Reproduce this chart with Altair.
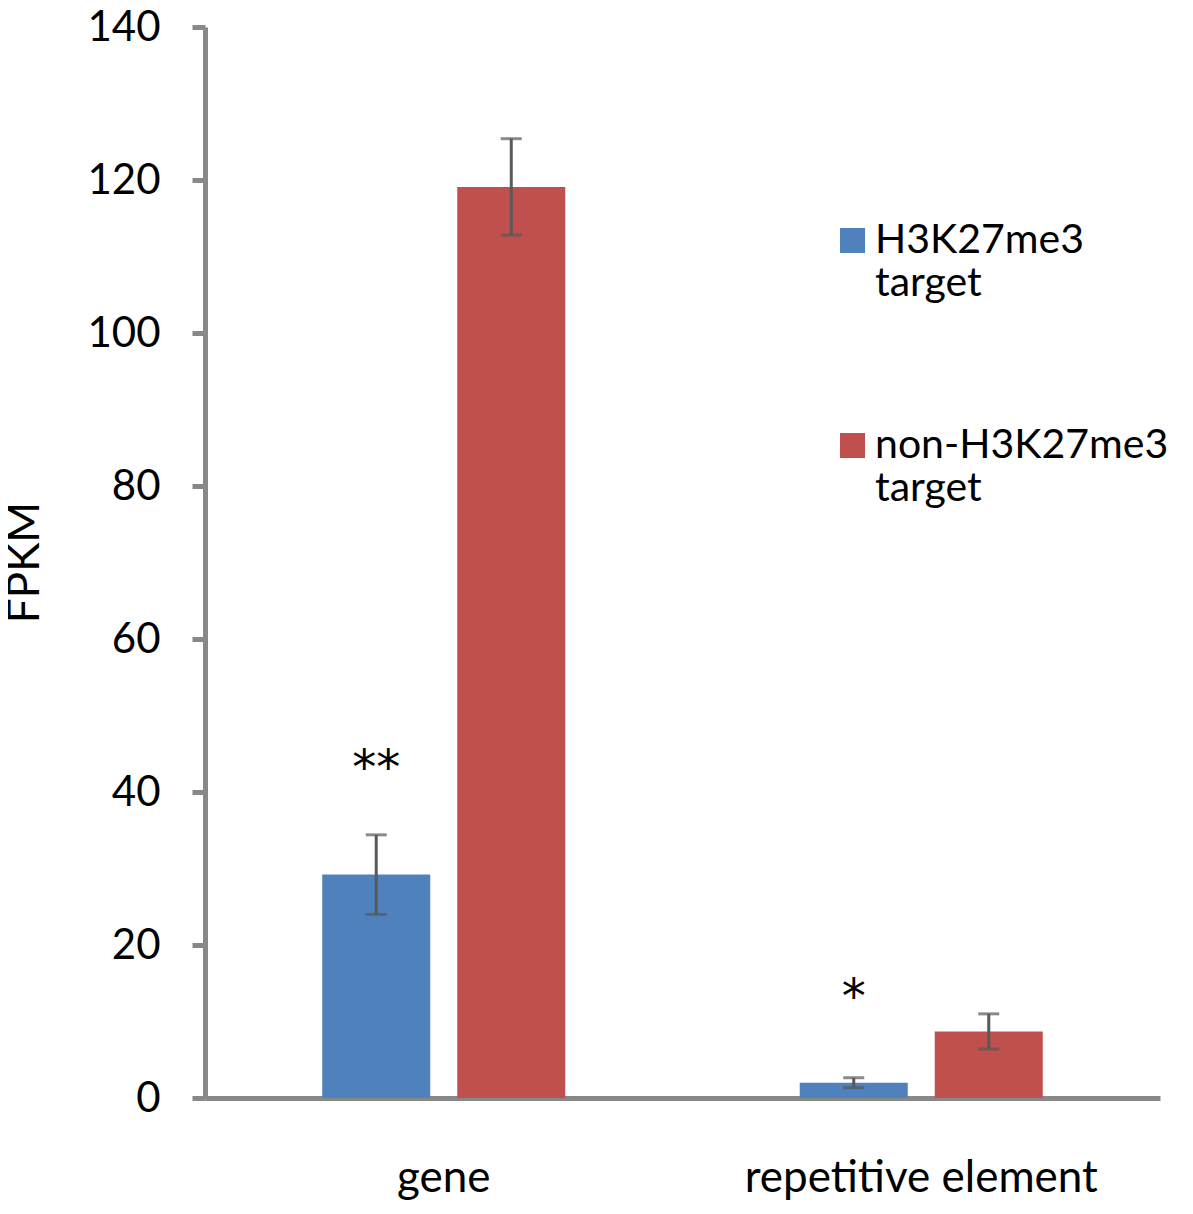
import altair as alt
import pandas as pd

categories = ["gene", "gene", "repetitive element", "repetitive element"]
groups = ["H3K27me3 target", "non-H3K27me3 target", "H3K27me3 target", "non-H3K27me3 target"]
values = [29.2, 119.1, 2.0, 8.7]
errors = [5.2, 6.3, 0.65, 2.3]
stars = ["**", "", "*", ""]
star_y = [44.1, None, 14.1, None]

df = pd.DataFrame({
    "category": categories,
    "group": groups,
    "value": values,
    "lo": [v - e for v, e in zip(values, errors)],
    "hi": [v + e for v, e in zip(values, errors)],
    "star": stars,
    "star_y": star_y,
})

FONT = "Lato"
cat_order = ["gene", "repetitive element"]
grp_order = ["H3K27me3 target", "non-H3K27me3 target"]

x = alt.X("category:N", sort=cat_order,
          scale=alt.Scale(paddingInner=0.491, paddingOuter=0.2455),
          axis=alt.Axis(title=None, labelAngle=0, ticks=False, labelPadding=58,
                        labelFontSize=44, labelFont=FONT, labelColor="#000000",
                        labelLimit=600,
                        domainColor="#888888", domainWidth=5))
xoff = alt.XOffset("group:N", sort=grp_order,
                   scale=alt.Scale(paddingInner=0.2, paddingOuter=0))

y = alt.Y("value:Q",
          scale=alt.Scale(domain=[0, 140], nice=False),
          axis=alt.Axis(title="FPKM", values=list(range(0, 141, 20)), grid=False,
                        tickSize=13, tickWidth=5, tickColor="#888888",
                        domainColor="#888888", domainWidth=5,
                        labelPadding=32, labelFontSize=42, labelFont=FONT,
                        labelColor="#000000",
                        titleFont=FONT, titleFontSize=44, titleFontWeight="normal",
                        titleColor="#000000", titleX=-180, titleY=535,
                        titleAngle=-90, titleAlign="center", titleBaseline="middle"))

color = alt.Color("group:N", sort=grp_order,
                  scale=alt.Scale(domain=grp_order, range=["#4F81BD", "#C0504D"]),
                  legend=alt.Legend(title=None, orient="none", legendX=627, legendY=193,
                                    symbolType="square", symbolSize=625,
                                    symbolStrokeWidth=0, symbolOpacity=1,
                                    labelFont=FONT, labelFontSize=41, labelColor="#000000",
                                    labelExpr="split(datum.label, ' ')",
                                    labelBaseline="middle", labelOffset=2,
                                    labelLimit=400, rowPadding=120))

base = alt.Chart(df)

bars = base.mark_bar(opacity=1).encode(x=x, xOffset=xoff, y=y, color=color)

err = base.mark_rule(color="#595959", strokeWidth=3).encode(
    x=x, xOffset=xoff, y="lo:Q", y2="hi:Q")
cap_lo = base.mark_tick(color="#595959", thickness=3, size=21).encode(
    x=x, xOffset=xoff, y="lo:Q")
cap_hi = base.mark_tick(color="#595959", thickness=3, size=21).encode(
    x=x, xOffset=xoff, y="hi:Q")

star_text = base.transform_filter("datum.star != ''").mark_text(
    font="DejaVu Sans", fontSize=48, color="#000000", baseline="middle", dy=9).encode(
    x=x, xOffset=xoff, y="star_y:Q", text="star:N")

chart = alt.layer(bars, err, cap_lo, cap_hi, star_text).properties(
    width=955, height=1071,
    autosize=alt.AutoSizeParams(type="none"),
    padding={"left": 197, "top": 19, "right": 17, "bottom": 104},
).configure(background="#ffffff").configure_view(stroke=None, strokeWidth=0)

chart.save("out.html", embed_options={"renderer": "svg", "actions": False})
